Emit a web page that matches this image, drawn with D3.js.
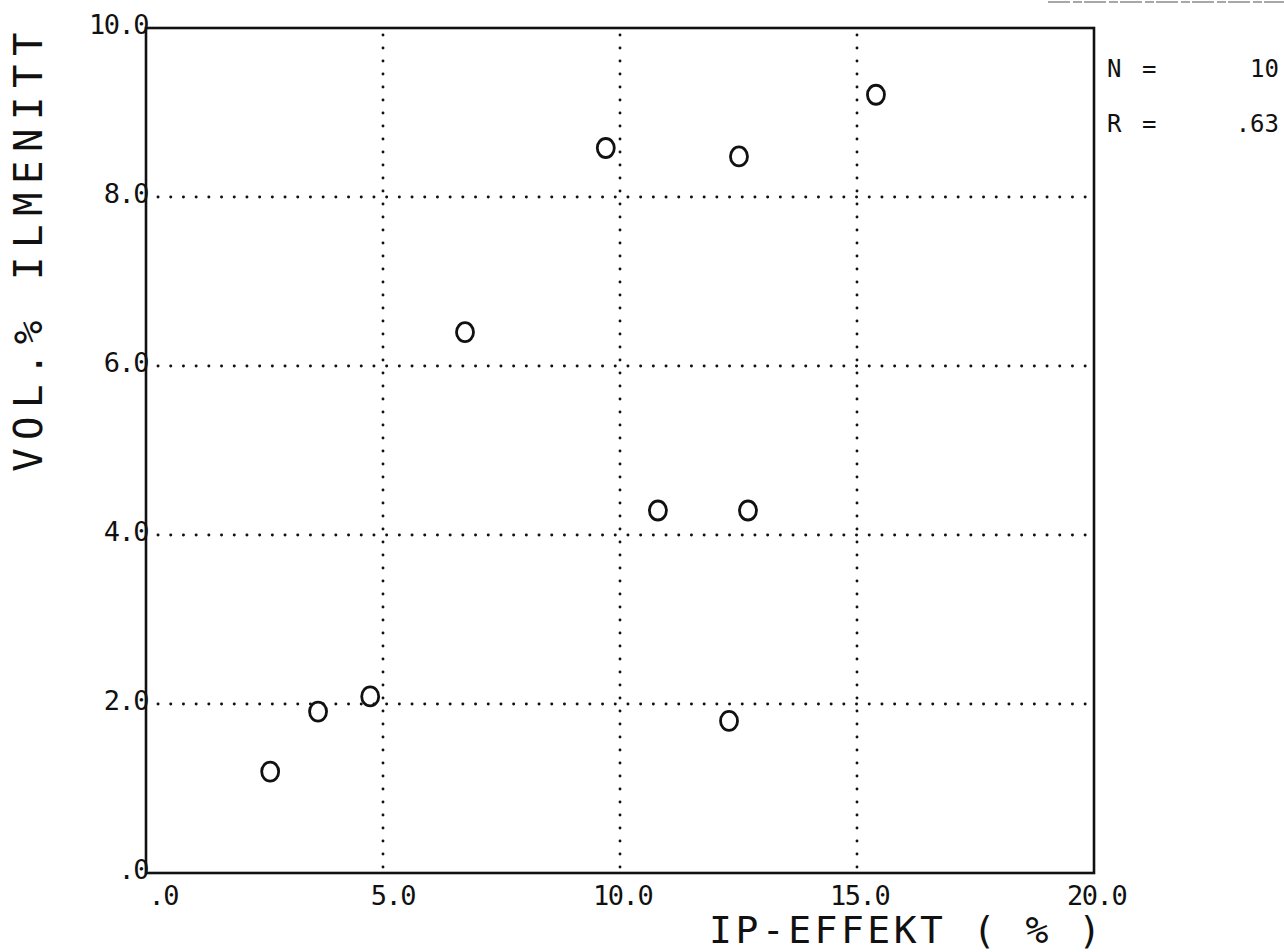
<!DOCTYPE html>
<html>
<head>
<meta charset="utf-8">
<script src="https://cdn.jsdelivr.net/npm/d3@7/dist/d3.min.js"></script>
<style>
  html, body { margin: 0; padding: 0; background: #fff; }
  svg { display: block; }
  text { font-family: "DejaVu Sans Mono", monospace; fill: #111; }
</style>
</head>
<body>
<svg id="chart" width="1284" height="952"></svg>
<script>
// Samples: IP effect (%) against ilmenite content (vol. %)
const ipEffekt    = [2.62, 3.63, 4.73, 6.73, 9.70, 10.80, 12.51, 12.70, 12.30, 15.40];
const volIlmenitt = [1.20, 1.91, 2.09, 6.40, 8.58, 4.29, 8.48, 4.29, 1.80, 9.21];

const xTicks = [0, 5, 10, 15, 20];
const xTickLabels = [".0", "5.0", "10.0", "15.0", "20.0"];
const yTicks = [0, 2, 4, 6, 8, 10];
const yTickLabels = [".0", "2.0", "4.0", "6.0", "8.0", "10.0"];
const gridX = [5, 10, 15];
const gridY = [2, 4, 6, 8];

const statNames = ["N =", "R ="];
const statValues = ["10", ".63"];

const xTitle = "IP-EFFEKT ( % )";
const yTitle = "VOL.% ILMENITT";

const svg = d3.select("#chart");
const plot = { left: 146, right: 1094, top: 28, bottom: 873 };

const x = d3.scaleLinear().domain([0, 20]).range([plot.left, plot.right]);
const y = d3.scaleLinear().domain([0, 10]).range([plot.bottom, plot.top]);

// faint paper edge along the top right
svg.append("line")
  .attr("x1", 1048).attr("x2", 1284).attr("y1", 2).attr("y2", 2)
  .attr("stroke", "#8a8a8a").attr("stroke-width", 1.5)
  .attr("stroke-dasharray", "22,3,9,2");

// dotted grid
const grid = svg.append("g")
  .attr("stroke", "#111").attr("stroke-width", 2.9)
  .attr("stroke-linecap", "round").attr("fill", "none");
grid.selectAll("line.gx").data(gridX).join("line")
  .attr("class", "gx")
  .attr("x1", d => x(d)).attr("x2", d => x(d))
  .attr("y1", plot.bottom - 6).attr("y2", plot.top)
  .attr("stroke-dasharray", "0.1,12.9");
grid.selectAll("line.gy").data(gridY).join("line")
  .attr("class", "gy")
  .attr("y1", d => y(d)).attr("y2", d => y(d))
  .attr("x1", plot.left + 12).attr("x2", plot.right)
  .attr("stroke-dasharray", "0.1,12.6");

// frame
svg.append("rect")
  .attr("x", plot.left).attr("y", plot.top)
  .attr("width", plot.right - plot.left).attr("height", plot.bottom - plot.top)
  .attr("fill", "none").attr("stroke", "#111").attr("stroke-width", 2.6);

// tick labels
const tickFont = 27, tickSpacing = -1.5;
const adv = tickFont * 0.602 + tickSpacing;

svg.append("g").selectAll("text").data(yTicks).join("text")
  .attr("x", plot.left + 2)
  .attr("y", d => y(d) + 6)
  .attr("text-anchor", "end")
  .attr("font-size", tickFont)
  .attr("letter-spacing", tickSpacing)
  .text((d, i) => yTickLabels[i]);

// x labels: decimal point sits just right of each grid position
svg.append("g").selectAll("text").data(xTicks).join("text")
  .attr("x", (d, i) => {
    const intLen = xTickLabels[i].indexOf(".");
    return x(d) + 10 - (intLen + 0.5) * adv;
  })
  .attr("y", 905)
  .attr("text-anchor", "start")
  .attr("font-size", tickFont)
  .attr("letter-spacing", tickSpacing)
  .text((d, i) => xTickLabels[i]);

// axis titles
svg.append("text")
  .attr("x", 709).attr("y", 943)
  .attr("text-anchor", "start")
  .attr("font-size", 38)
  .attr("letter-spacing", 3.5)
  .text(xTitle);

svg.append("text")
  .attr("transform", "translate(42,248) rotate(-90)")
  .attr("text-anchor", "middle")
  .attr("font-size", 39)
  .attr("letter-spacing", 8.5)
  .text(yTitle);

// statistics box at the right
const stats = svg.append("g").attr("font-size", 24);
stats.selectAll("text.name").data(statNames).join("text")
  .attr("class", "name")
  .attr("x", 1107).attr("y", (d, i) => 77 + i * 55)
  .attr("letter-spacing", 3)
  .text(d => d);
stats.selectAll("text.val").data(statValues).join("text")
  .attr("class", "val")
  .attr("x", 1279).attr("y", (d, i) => 77 + i * 55)
  .attr("text-anchor", "end")
  .text(d => d);

// data points
svg.append("g").selectAll("ellipse").data(ipEffekt).join("ellipse")
  .attr("cx", d => x(d))
  .attr("cy", (d, i) => y(volIlmenitt[i]))
  .attr("rx", 8.5).attr("ry", 9.5)
  .attr("fill", "none").attr("stroke", "#111").attr("stroke-width", 2.8);
</script>
</body>
</html>
